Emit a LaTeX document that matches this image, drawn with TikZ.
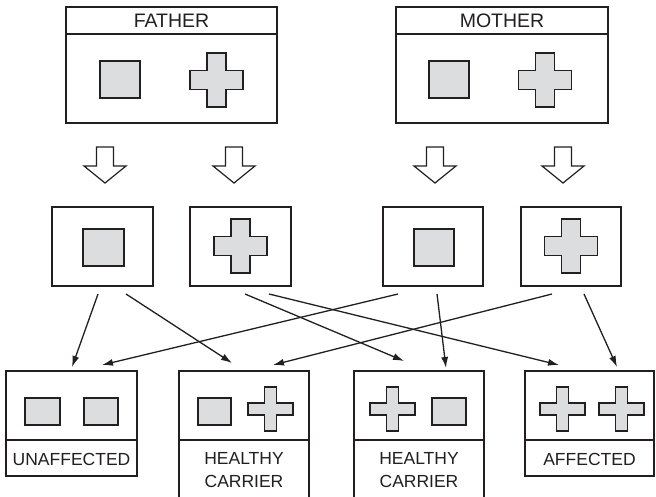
\documentclass[tikz,border=0pt]{standalone}
\usepackage{fontspec}
\setmainfont{Liberation Sans}
\usetikzlibrary{arrows.meta,calc}
\definecolor{ink}{HTML}{231F20}
\definecolor{gfill}{HTML}{DCDDDE}
\tikzset{
  frame/.style={draw=ink, line width=1.5pt, fill=white, inner sep=0pt, outer sep=0pt, anchor=north west},
  gsq/.style={draw=ink, line width=1.6pt, fill=gfill, inner sep=0pt, anchor=north west},
  gshape/.style={draw=ink, line width=1.6pt, fill=gfill, line join=miter},
  conn/.style={draw=ink, line width=1.3pt, -{Latex[length=11pt,width=7pt]}},
  hollow/.style={draw=ink, line width=1.2pt, fill=white, line join=miter},
  hdr/.style={font=\fontsize{19.5}{20}\selectfont, text=ink, inner sep=0pt},
  lbl/.style={font=\fontsize{17.5}{23}\selectfont, text=ink, align=center, inner sep=0pt},
  divider/.style={draw=ink, line width=1.5pt},
}
% cross: centre x, centre y, half width, half height, half arm
\newcommand\gcross[5]{%
  \draw[gshape] (#1-#5,#2-#4) -- (#1+#5,#2-#4) -- (#1+#5,#2-#5) -- (#1+#3,#2-#5)
    -- (#1+#3,#2+#5) -- (#1+#5,#2+#5) -- (#1+#5,#2+#4) -- (#1-#5,#2+#4)
    -- (#1-#5,#2+#5) -- (#1-#3,#2+#5) -- (#1-#3,#2-#5) -- (#1-#5,#2-#5) -- cycle;}
% hollow arrow with tip at x,y
\newcommand\hollowarrow[2]{%
  \draw[hollow] (#1-8.5,#2-36) -- (#1+8.5,#2-36) -- (#1+8.5,#2-17) -- (#1+21,#2-17)
    -- (#1,#2) -- (#1-21,#2-17) -- (#1-8.5,#2-17) -- cycle;}
\begin{document}
\begin{tikzpicture}[x=1pt,y=-1pt]
\clip (0,0) rectangle (656,497);
\fill[white] (0,0) rectangle (656,497);

% parents
\node[frame, minimum width=211pt, minimum height=116pt] (father) at (66,7) {};
\draw[divider] (father.west |- 0,34) -- (father.east |- 0,34);
\node[hdr] (fatherlbl) at (171.5,21) {FATHER};
\node[gsq, minimum width=40pt, minimum height=37pt] (fsq) at (99,60) {};
\gcross{216.5}{80}{26.5}{27}{9.5}

\node[frame, minimum width=212pt, minimum height=116pt] (mother) at (396,7) {};
\draw[divider] (mother.west |- 0,34) -- (mother.east |- 0,34);
\node[hdr] (motherlbl) at (502,21) {MOTHER};
\node[gsq, minimum width=40pt, minimum height=37pt] (msq) at (428,60) {};
\gcross{545}{80}{26.5}{27}{9.5}

% hollow arrows
\hollowarrow{105}{183}
\hollowarrow{234}{183}
\hollowarrow{435}{183}
\hollowarrow{563}{183}

% gametes
\node[frame, minimum width=101pt, minimum height=79pt] (g1) at (52,207) {};
\node[gsq, minimum width=41pt, minimum height=37pt] (g1sq) at (82,228) {};
\node[frame, minimum width=101pt, minimum height=79pt] (g2) at (190,207) {};
\gcross{240.5}{246}{26.5}{27}{9.5}
\node[frame, minimum width=100pt, minimum height=79pt] (g3) at (383,207) {};
\node[gsq, minimum width=40pt, minimum height=37pt] (g3sq) at (413,228) {};
\node[frame, minimum width=100pt, minimum height=79pt] (g4) at (521,207) {};
\gcross{571}{246}{26.5}{27}{9.5}

% offspring
\node[frame, minimum width=131pt, minimum height=105pt] (oa) at (6,371) {};
\draw[divider] (oa.west |- 0,440) -- (oa.east |- 0,440);
\node[gsq, minimum width=35pt, minimum height=27pt] (oas1) at (24,397) {};
\node[gsq, minimum width=34pt, minimum height=27pt] (oas2) at (83,397) {};
\node[lbl] (oalbl) at (71.5,459) {UNAFFECTED};

\node[frame, minimum width=130pt, minimum height=140pt] (ob) at (179,371) {};
\draw[divider] (ob.west |- 0,440) -- (ob.east |- 0,440);
\node[gsq, minimum width=33pt, minimum height=27pt] (obs) at (197,397) {};
\gcross{270.5}{409}{22.5}{22}{6}
\node[lbl] (oblbl) at (244,470.5) {HEALTHY\\CARRIER};

\node[frame, minimum width=130pt, minimum height=140pt] (oc) at (354,371) {};
\draw[divider] (oc.west |- 0,440) -- (oc.east |- 0,440);
\gcross{392.5}{409}{22.5}{22}{6}
\node[gsq, minimum width=34pt, minimum height=27pt] (ocs) at (431,397) {};
\node[lbl] (oclbl) at (419,470.5) {HEALTHY\\CARRIER};

\node[frame, minimum width=129pt, minimum height=105pt] (od) at (525,371) {};
\draw[divider] (od.west |- 0,440) -- (od.east |- 0,440);
\gcross{562.5}{409}{22.5}{22}{6}
\gcross{621.5}{409}{22.5}{22}{6}
\node[lbl] (odlbl) at (589.5,459) {AFFECTED};

% connector end points
\coordinate (g1a) at (98,294);   \coordinate (g1b) at (126,294);
\coordinate (g2a) at (245,294);  \coordinate (g2b) at (269,294);
\coordinate (g3a) at (398,294);  \coordinate (g3b) at (437,294);
\coordinate (g4a) at (552,294);  \coordinate (g4b) at (584,294);
\coordinate (oa1) at (72,367);   \coordinate (oa2) at (102,365);
\coordinate (ob1) at (232,363);  \coordinate (ob2) at (273,365);
\coordinate (oc1) at (404,361);  \coordinate (oc2) at (446,368);
\coordinate (od1) at (559,365);  \coordinate (od2) at (617,367);

\draw[conn] (g1a) -- (oa1);
\draw[conn] (g1b) -- (ob1);
\draw[conn] (g2a) -- (oc1);
\draw[conn] (g2b) -- (od1);
\draw[conn] (g3a) -- (oa2);
\draw[conn] (g3b) -- (oc2);
\draw[conn] (g4a) -- (ob2);
\draw[conn] (g4b) -- (od2);
\end{tikzpicture}
\end{document}
